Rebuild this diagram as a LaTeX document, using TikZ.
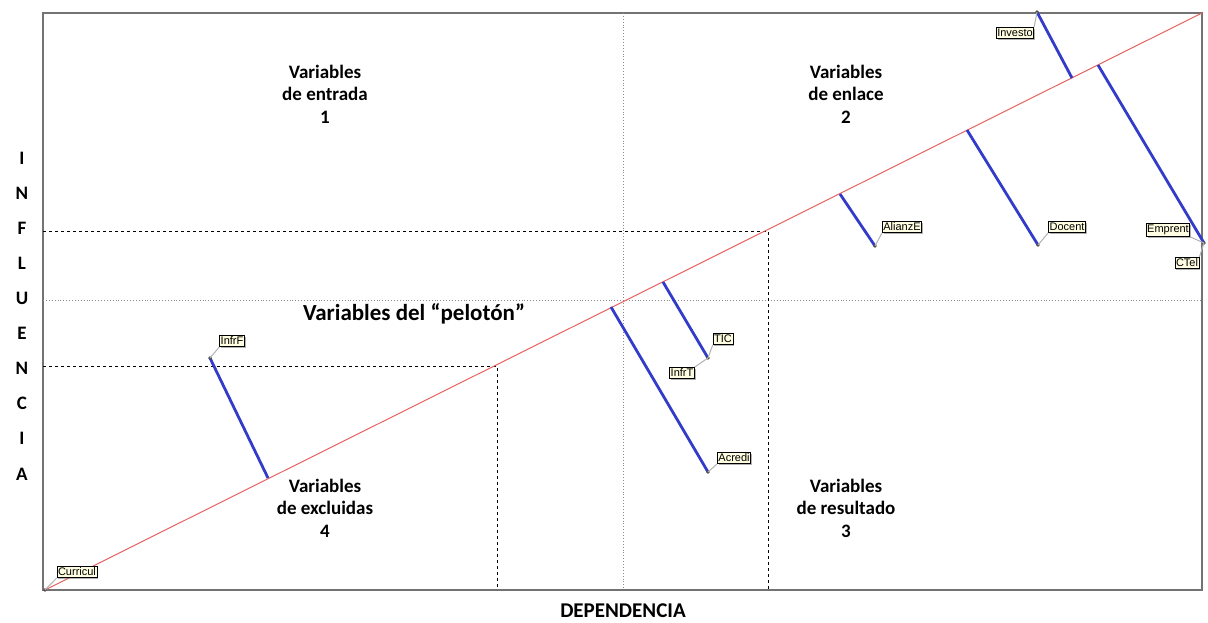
\documentclass[tikz,border=0pt]{standalone}
\usepackage{fontspec}
\setmainfont{Carlito}
\newfontfamily\lblfont{Liberation Sans}
\usetikzlibrary{shadows}

\definecolor{diagred}{RGB}{232,96,96}
\definecolor{segblue}{RGB}{50,60,200}
\definecolor{lblfill}{RGB}{255,253,225}

\tikzset{every picture/.style={line width=0.75pt}}
\tikzset{
  frame/.style={draw=black!55, line width=1.4pt},
  diag/.style={draw=diagred, line width=1pt},
  midline/.style={draw=black!45, dotted, line width=0.9pt},
  cutline/.style={draw=black, dashed, line width=1pt},
  seg/.style={draw=segblue, line width=2.8pt},
  leader/.style={draw=black!30, line width=1pt},
  lbl/.style={draw=black, fill=lblfill, inner xsep=1pt, inner ysep=1.6pt, line width=0.7pt,
    font=\lblfont\fontsize{11}{12}\selectfont, drop shadow={shadow xshift=1.3pt, shadow yshift=-1.3pt, fill=black!60}},
  quad/.style={align=center, font=\bfseries\fontsize{19}{22.5}\selectfont},
  axis/.style={font=\bfseries\fontsize{21}{22}\selectfont}
}

\begin{document}
\begin{tikzpicture}[x=1pt,y=1pt,yscale=-1]
\useasboundingbox (0,0) rectangle (1208,623);

%Shape: Rectangle
\draw[frame] (43,13) rectangle (1202,590);

%Straight Lines (cuadrantes)
\draw[midline] (623,13) -- (623,590);
\draw[midline] (43,300) -- (1202,300);

%Straight Lines (cortes)
\draw[cutline] (43,231) -- (768,231) -- (768,590);
\draw[cutline] (43,366) -- (497,366) -- (497,590);

%Straight Lines (diagonal)
\coordinate (d0) at (45,590);
\coordinate (d1) at (1202,13);
\draw[diag] (d0) -- (d1);

% puntos sobre la diagonal y extremos
\coordinate (aInfrF) at (268,478);   \coordinate (bInfrF) at (210,358);
\coordinate (aAcredi) at (611,307);  \coordinate (bAcredi) at (708,472);
\coordinate (aTIC) at (663,282);     \coordinate (bTIC) at (708,358);
\coordinate (aAlianzE) at (840,194); \coordinate (bAlianzE) at (875,246);
\coordinate (aDocent) at (967,130);  \coordinate (bDocent) at (1038,245);
\coordinate (aEmprent) at (1098,65); \coordinate (bEmprent) at (1204,243);
\coordinate (aInvesto) at (1072,78); \coordinate (bInvesto) at (1037,12);

%Straight Lines (segmentos)
\foreach \v in {InfrF,Acredi,TIC,AlianzE,Docent,Emprent,Investo}{
  \draw[seg] (a\v) -- (b\v);
  \fill[black!70] (b\v) circle (1.8pt);
}
\fill[black!70] (d0) circle (1.8pt);

% Label Nodes
\node[lbl] (curricul) at (77,572) {Curricul};
\node[lbl] (infrf) at (232,341) {InfrF};
\node[lbl] (tic) at (723,339) {TIC};
\node[lbl] (infrt) at (682,373) {InfrT};
\node[lbl] (acredi) at (734,458) {Acredi};
\node[lbl] (alianze) at (902,227) {AlianzE};
\node[lbl] (docent) at (1067,227) {Docent};
\node[lbl] (emprent) at (1168,230) {Emprent};
\node[lbl] (ctel) at (1187,263) {CTel};
\node[lbl] (investo) at (1015,33) {Investo};

% leaders
\draw[leader] (d0) -- (curricul.south west);
\draw[leader] (bInfrF) -- (infrf.south west);
\draw[leader] (bTIC) -- (tic.south west);
\draw[leader] (bTIC) -- (infrt.north east);
\draw[leader] (bAcredi) -- (acredi.south west);
\draw[leader] (bAlianzE) -- (alianze.south west);
\draw[leader] (bDocent) -- (docent.south west);
\draw[leader] (bEmprent) -- (emprent.south east);
\draw[leader] (bEmprent) -- (ctel.north east);
\draw[leader] (bInvesto) -- (investo.north east);

% Text Node
\node[quad] (entrada) at (325,94) {Variables\\de entrada\\1};
% Text Node
\node[quad] (enlace) at (846,94) {Variables\\de enlace\\2};
% Text Node
\node[quad] (excluidas) at (325,508) {Variables\\de excluidas\\4};
% Text Node
\node[quad] (resultado) at (846,508) {Variables\\de resultado\\3};
% Text Node
\node[quad, font=\bfseries\fontsize{23}{24}\selectfont] (peloton) at (414,314) {Variables del “pelotón”};

% Text Node
\node[axis] (dependencia) at (623,611) {DEPENDENCIA};
% Text Node
\foreach \c [count=\i from 0] in {I,N,F,L,U,E,N,C,I,A}
  \node[axis, font=\bfseries\fontsize{19}{20}\selectfont] (inf\i) at (22,158+35.1*\i) {\c};

\end{tikzpicture}
\end{document}
